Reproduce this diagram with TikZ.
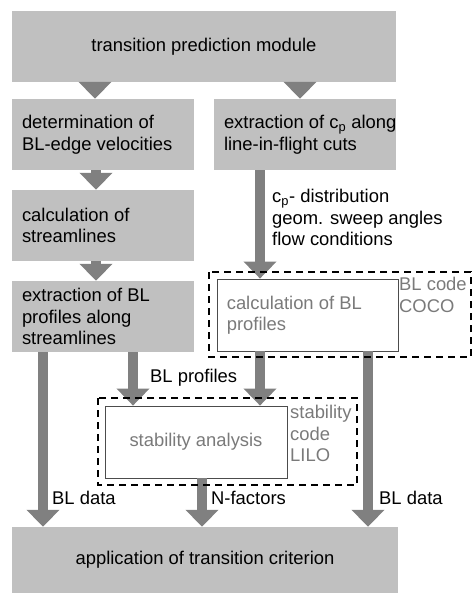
\documentclass[tikz,border=0pt]{standalone}
\usepackage{fontspec}
\setmainfont{Liberation Sans}
\usetikzlibrary{arrows.meta}
\definecolor{boxgray}{HTML}{C0C0C0}
\definecolor{arrowgray}{HTML}{808080}
\definecolor{codegray}{HTML}{7A7A7A}
\tikzset{
  every node/.style={font=\fontsize{18.4}{21.5}\selectfont},
  graybox/.style={fill=boxgray, draw=none, minimum height=71pt,
    minimum width=#1, inner sep=0pt},
  boxtext/.style={anchor=west, inner sep=0pt, align=left},
  whitebox/.style={fill=white, draw=black!70, line width=0.8pt, inner sep=0pt,
    minimum width=181pt, minimum height=72pt},
  codetext/.style={anchor=west, inner sep=0pt, align=left, text=codegray},
  codebox/.style={draw=black, line width=1.8pt, dash pattern=on 7pt off 5pt},
  fat/.style={draw=arrowgray, line width=10pt,
    -{Triangle[width=32pt,length=17pt]}},
  lbl/.style={inner sep=2pt, align=left},
  codelbl/.style={inner sep=2pt, align=left, text=codegray},
}
\begin{document}
\begin{tikzpicture}[x=1pt,y=-1pt]
\useasboundingbox (0,0) rectangle (473,593);

% process boxes
\node[graybox=384pt] (top) at (204,46.5) {transition prediction module};
\node[graybox=182pt] (det) at (103,134.5) {};
\node[boxtext] (dett) at ([xshift=10pt]det.west)
  {determination of\\BL-edge velocities};
\node[graybox=182pt] (cp) at (305,134.5) {};
\node[boxtext] (cpt) at ([xshift=10pt]cp.west)
  {extraction of c\textsubscript{p} along\\line-in-flight cuts};
\node[graybox=182pt] (calc) at (103,225.5) {};
\node[boxtext] (calct) at ([xshift=10pt]calc.west)
  {calculation of\\streamlines};
\node[graybox=182pt] (blext) at (103,316.5) {};
\node[boxtext] (blextt) at ([xshift=10pt]blext.west)
  {extraction of BL\\profiles along\\streamlines};
\node[graybox=386pt, minimum height=66pt] (app) at (205,560)
  {application of transition criterion};

% external codes
\node[whitebox] (coco) at (307.5,315) {};
\node[codetext] (cocot) at ([xshift=10pt]coco.west)
  {calculation of BL\\profiles};
\node[whitebox, minimum width=182pt, text=codegray] (stab) at (196,442)
  {stability analysis};

% data flow
\draw[fat] (top.south -| 95,0) -- (det.north -| 95,0);
\draw[fat] (top.south -| 300,0) -- (cp.north -| 300,0);
\draw[fat] (det.south -| 96,0) -- (calc.north -| 96,0);
\draw[fat] (calc.south -| 96,0) -- (blext.north -| 96,0);
\draw[fat] (cp.south -| 260,0) -- (coco.north -| 260,0);
\draw[fat] (blext.south -| 43,0) -- (app.north -| 43,0);
\draw[fat] (blext.south -| 133,0) -- (stab.north -| 133,0);
\draw[fat] (coco.south -| 260,0) -- (stab.north -| 260,0);
\draw[fat] (coco.south -| 368,0) -- (app.north -| 368,0);
\draw[fat] (stab.south -| 202,0) -- (app.north -| 202,0);

% labels
\node[lbl, anchor=north west] (cplbl) at (270,187)
  {c\textsubscript{p}- distribution\\geom. sweep angles\\flow conditions};
\node[lbl, anchor=west] (blprof) at (148,378) {BL profiles};
\node[lbl, anchor=west] (bld1) at (50,498) {BL data};
\node[lbl, anchor=west] (nfac) at (209,498) {N-factors};
\node[lbl, anchor=west] (bld2) at (377,498) {BL data};
\node[codelbl, anchor=north west] (cocolbl) at (397,275) {BL code\\COCO};
\node[codelbl, anchor=north west] (lilolbl) at (288,403) {stability\\code\\LILO};

% code boundaries
\draw[codebox] (209,272) rectangle (471,357);
\draw[codebox] (98,398) rectangle (357,485);
\end{tikzpicture}
\end{document}
